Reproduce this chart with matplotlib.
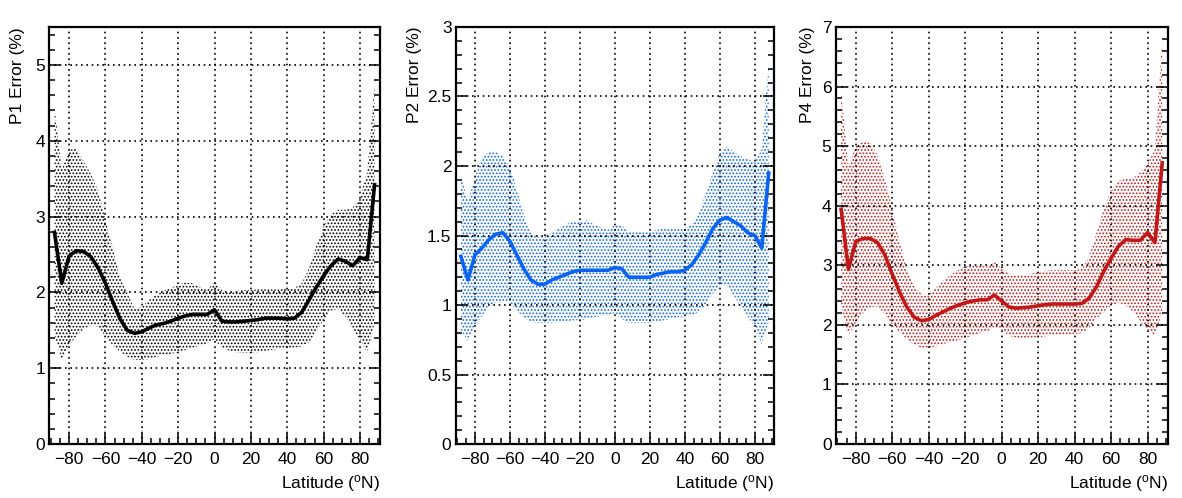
import matplotlib
matplotlib.use('Agg')
import matplotlib.pyplot as plt
import numpy as np
from matplotlib.ticker import MultipleLocator, FormatStrFormatter

####################################################################################################
# data (latitude grid in degrees N, errors in %)
####################################################################################################
lat = [-88, -84, -80, -76, -72, -68, -64, -60, -56, -52, -48, -44, -40, -36, -32, -28, -24, -20,
       -16, -12, -8, -4, 0, 4, 8, 12, 16, 20, 24, 28, 32, 36, 40, 44, 48, 52, 56, 60, 64, 68, 72,
       76, 80, 84, 88]

p1_mean = [2.79, 2.12, 2.48, 2.55, 2.54, 2.47, 2.32, 2.12, 1.88, 1.65, 1.50, 1.46, 1.48, 1.53, 1.57,
           1.59, 1.62, 1.66, 1.69, 1.71, 1.71, 1.71, 1.77, 1.62, 1.61, 1.61, 1.62, 1.63, 1.64, 1.66,
           1.66, 1.66, 1.65, 1.66, 1.74, 1.90, 2.07, 2.22, 2.35, 2.44, 2.41, 2.35, 2.46, 2.43, 3.42]
p1_upper = [4.45, 3.62, 3.88, 3.90, 3.73, 3.56, 3.34, 2.96, 2.58, 2.20, 1.99, 1.78, 1.81, 1.90, 1.97,
            2.02, 2.06, 2.10, 2.13, 2.12, 2.07, 2.03, 2.15, 2.03, 2.01, 2.02, 2.03, 2.03, 2.04, 2.04,
            2.04, 2.04, 2.05, 2.06, 2.12, 2.32, 2.62, 2.87, 3.03, 3.09, 3.09, 3.12, 3.25, 3.60, 4.75]
p1_lower = [1.45, 1.10, 1.30, 1.42, 1.52, 1.56, 1.55, 1.42, 1.30, 1.22, 1.15, 1.11, 1.11, 1.12, 1.15,
            1.17, 1.19, 1.21, 1.24, 1.27, 1.30, 1.33, 1.38, 1.27, 1.23, 1.21, 1.20, 1.20, 1.21, 1.23,
            1.24, 1.26, 1.27, 1.27, 1.29, 1.34, 1.48, 1.64, 1.76, 1.78, 1.68, 1.51, 1.38, 1.20, 1.60]

p2_mean = [1.35, 1.18, 1.36, 1.41, 1.47, 1.51, 1.52, 1.46, 1.36, 1.26, 1.18, 1.15, 1.15, 1.18, 1.20,
           1.22, 1.24, 1.25, 1.25, 1.25, 1.25, 1.25, 1.27, 1.26, 1.20, 1.20, 1.20, 1.20, 1.22, 1.23,
           1.24, 1.24, 1.25, 1.29, 1.36, 1.45, 1.55, 1.61, 1.63, 1.60, 1.57, 1.52, 1.50, 1.41, 1.95]
p2_upper = [1.93, 1.75, 1.92, 2.06, 2.10, 2.10, 2.07, 2.00, 1.83, 1.65, 1.52, 1.49, 1.49, 1.52, 1.55,
            1.58, 1.60, 1.60, 1.61, 1.58, 1.56, 1.54, 1.58, 1.57, 1.53, 1.53, 1.53, 1.53, 1.54, 1.55,
            1.55, 1.55, 1.55, 1.58, 1.66, 1.80, 1.95, 2.09, 2.14, 2.10, 2.07, 2.05, 2.03, 2.12, 2.75]
p2_lower = [0.82, 0.74, 0.84, 0.92, 0.99, 1.02, 1.02, 1.02, 0.96, 0.91, 0.88, 0.87, 0.87, 0.87, 0.88,
            0.88, 0.89, 0.89, 0.90, 0.91, 0.92, 0.93, 0.94, 0.90, 0.87, 0.87, 0.87, 0.87, 0.88, 0.89,
            0.90, 0.91, 0.92, 0.92, 0.95, 1.00, 1.08, 1.14, 1.14, 1.07, 0.99, 0.92, 0.84, 0.72, 0.88]

p4_mean = [3.94, 2.93, 3.40, 3.45, 3.45, 3.38, 3.17, 2.85, 2.55, 2.30, 2.13, 2.07, 2.09, 2.16, 2.22,
           2.28, 2.33, 2.37, 2.40, 2.42, 2.42, 2.50, 2.40, 2.30, 2.28, 2.29, 2.30, 2.32, 2.34, 2.35,
           2.35, 2.35, 2.35, 2.36, 2.45, 2.64, 2.90, 3.12, 3.32, 3.43, 3.42, 3.42, 3.55, 3.38, 4.72]
p4_upper = [5.94, 4.66, 5.00, 5.08, 5.05, 4.85, 4.45, 3.95, 3.40, 2.95, 2.65, 2.52, 2.52, 2.62, 2.74,
            2.84, 2.92, 2.98, 2.99, 2.99, 2.98, 3.05, 2.95, 2.86, 2.84, 2.84, 2.86, 2.88, 2.91, 2.92,
            2.92, 2.92, 2.92, 2.94, 3.15, 3.55, 3.95, 4.25, 4.42, 4.45, 4.46, 4.56, 4.70, 4.95, 6.80]
p4_lower = [2.30, 1.83, 2.03, 2.20, 2.30, 2.31, 2.18, 2.00, 1.88, 1.76, 1.67, 1.61, 1.61, 1.64, 1.68,
            1.71, 1.74, 1.78, 1.82, 1.86, 1.89, 1.97, 1.92, 1.82, 1.78, 1.78, 1.78, 1.79, 1.81, 1.82,
            1.83, 1.84, 1.85, 1.86, 1.95, 2.10, 2.22, 2.32, 2.37, 2.33, 2.22, 2.06, 1.92, 1.82, 2.20]

titles = ['P1 Error (%)', 'P2 Error (%)', 'P4 Error (%)']
xlabel = 'Latitude ($^{o}$N)'

####################################################################################################
# plot
####################################################################################################
plt.rcParams['font.family'] = ['Liberation Sans', 'DejaVu Sans']
plt.rcParams['mathtext.default'] = 'regular'
plt.rcParams['hatch.linewidth'] = 0.8

fig = plt.figure(figsize=(11.82, 4.98), dpi=100)

panels = [
    # mean, upper, lower, colour, ymax, major, minor, axes rect, ylabel x
    (p1_mean, p1_upper, p1_lower, 'black', 5.5, 1, 0.2, [0.0415, 0.1084, 0.2800, 0.8374], -0.073),
    (p2_mean, p2_upper, p2_lower, '#0a64f0', 3.0, 0.5, 0.1, [0.3855, 0.1084, 0.2693, 0.8374], -0.106),
    (p4_mean, p4_upper, p4_lower, '#c01818', 7.0, 1, 0.2, [0.7070, 0.1084, 0.2809, 0.8374], -0.062),
]

for i, (mean, upper, lower, col, ymax, major, minor, rect, ylab_x) in enumerate(panels):
    ax = fig.add_axes(rect)
    ax.fill_between(lat, lower, upper, facecolor='none', edgecolor=col, hatch='.....',
                    linewidth=0, zorder=1)
    ax.plot(lat, mean, color=col, lw=2.6, zorder=3)

    ax.set_xlim(-91, 91)
    ax.set_ylim(0, ymax)
    ax.xaxis.set_major_locator(MultipleLocator(20))
    ax.xaxis.set_minor_locator(MultipleLocator(5))
    ax.yaxis.set_major_locator(MultipleLocator(major))
    ax.yaxis.set_minor_locator(MultipleLocator(minor))
    ax.yaxis.set_major_formatter(FormatStrFormatter('%g'))

    ax.grid(True, which='major', color='black', linestyle=(0, (1, 2.2)), linewidth=1.2, zorder=2)
    ax.set_axisbelow(False)
    ax.tick_params(which='both', direction='in', top=False, right=True, labelsize=12.5,
                   width=1.1, colors='black')
    ax.tick_params(which='major', length=8)
    ax.tick_params(which='minor', length=4)
    ax.tick_params(axis='x', which='major', pad=6)
    ax.tick_params(axis='y', which='major', pad=3)
    for s in ax.spines.values():
        s.set_linewidth(1.6)

    ax.set_ylabel(titles[i], fontsize=12.5, loc='top')
    ax.yaxis.set_label_coords(ylab_x, 1.0)
    ax.set_xlabel(xlabel, fontsize=12.5, loc='right')
    ax.xaxis.set_label_coords(1.0, -0.07)

fig.savefig('out.png', dpi=100)
plt.close()
